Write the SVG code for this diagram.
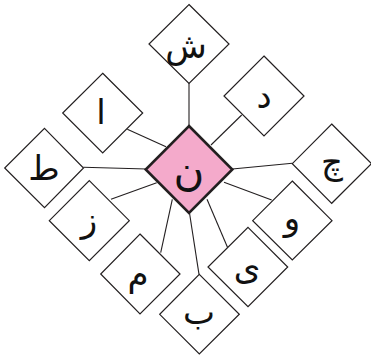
<svg xmlns="http://www.w3.org/2000/svg" width="371" height="356" viewBox="0 0 371 356">
<style>
.n{fill:#fff;stroke:#231f20;stroke-width:1.2}
.c{fill:#f4aacb;stroke:#231f20;stroke-width:2.6}
.t{font-family:"DejaVu Sans",sans-serif;font-size:34px;fill:#111;text-anchor:middle;dominant-baseline:central}
#conn line{stroke:#231f20;stroke-width:1.1}
</style>
<rect width="371" height="356" fill="#fff"/>
<g id="conn">
<line x1="189" y1="83" x2="189" y2="126"/>
<line x1="241.7" y1="115" x2="211" y2="145"/>
<line x1="127.3" y1="129.3" x2="166" y2="146.7"/>
<line x1="83.3" y1="167.3" x2="146.7" y2="169"/>
<line x1="232.3" y1="169" x2="292.3" y2="163.3"/>
<line x1="111" y1="199.3" x2="156.7" y2="182.7"/>
<line x1="160.7" y1="252.7" x2="172.3" y2="199.3"/>
<line x1="199" y1="274.3" x2="189.5" y2="213"/>
<line x1="227.7" y1="247.7" x2="207" y2="199.3"/>
<line x1="271.7" y1="200" x2="224" y2="182.3"/>
</g>
<g id="n-shin"><path class="n" d="M189,4.5 L229,44 L189,83.5 L149,44 Z"/><text class="t" x="186" y="46">ش</text></g>
<g id="n-dal"><path class="n" d="M264,56 L304,96 L264,136 L224,96 Z"/><text class="t" x="264" y="96">د</text></g>
<g id="n-alif"><path class="n" d="M102.7,73.3 L142.7,113 L102.7,153 L62.7,113 Z"/><text class="t" x="101" y="112">ا</text></g>
<g id="n-toe"><path class="n" d="M44.5,128.3 L83.5,168 L44.5,207.7 L4.7,168 Z"/><text class="t" x="44" y="168">ط</text></g>
<g id="n-che"><path class="n" d="M331.7,124 L371.5,163.7 L331.7,203.3 L292.3,163.7 Z"/><text class="t" x="332" y="162">چ</text></g>
<g id="n-ze"><path class="n" d="M89.3,180.7 L129.3,220.7 L89.3,260.7 L49.3,220.7 Z"/><text class="t" x="89" y="220">ز</text></g>
<g id="n-mim"><path class="n" d="M140,234 L180,274 L140,314 L100.7,274 Z"/><text class="t" x="138" y="274">م</text></g>
<g id="n-be"><path class="n" d="M199.3,274.3 L239.3,314.3 L199.3,354 L159.7,314.3 Z"/><text class="t" x="199" y="312">ب</text></g>
<g id="n-ye"><path class="n" d="M248,227.3 L287.7,267 L248,306.7 L208,267 Z"/><text class="t" x="247" y="267">ی</text></g>
<g id="n-vav"><path class="n" d="M292.3,181 L332,220.7 L292.3,260 L252.7,220.7 Z"/><text class="t" x="292" y="218">و</text></g>
<g id="n-nun"><path class="c" d="M189,126 L232.3,169.5 L189,213 L145.7,169.5 Z"/><text class="t" x="189" y="170" style="font-size:42px">ن</text></g>
</svg>
